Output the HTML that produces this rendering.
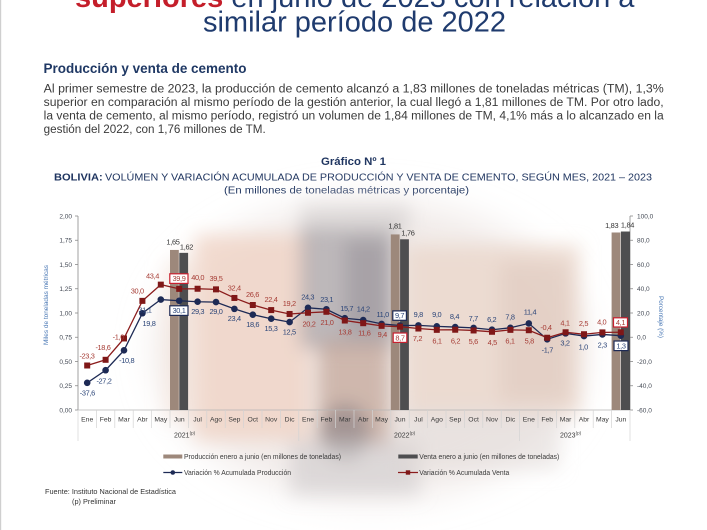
<!DOCTYPE html>
<html><head><meta charset="utf-8">
<style>
html,body{margin:0;padding:0;background:#fff;}
svg{display:block;font-family:"Liberation Sans",Arial,sans-serif;}
.dl{font-size:7.4px;letter-spacing:-0.35px;text-anchor:middle;}
.r{fill:#a63c35;}
.b{fill:#2b4578;}
.ax{font-size:6.5px;fill:#444a55;}
.mo{font-size:6.8px;fill:#3a3a3a;text-anchor:middle;}
</style></head>
<body>
<svg width="707" height="530" viewBox="0 0 707 530" xmlns="http://www.w3.org/2000/svg">
<defs>
<filter id="bl" x="-50%" y="-50%" width="200%" height="200%"><feGaussianBlur stdDeviation="9"/></filter>
<filter id="bl2" x="-50%" y="-50%" width="200%" height="200%"><feGaussianBlur stdDeviation="18"/></filter>
</defs>
<rect x="0" y="0" width="707" height="530" fill="#fff"/>
<rect x="0" y="0" width="1.2" height="530" fill="#cfcfcf"/>

<!-- header -->
<text x="75" y="7" font-size="29"><tspan fill="#c41e2a" font-weight="bold">superiores</tspan><tspan fill="#1f3b6e"> en junio de 2023 con relación a</tspan></text>
<text x="203" y="31.5" font-size="29" fill="#1f3b6e" textLength="303" lengthAdjust="spacingAndGlyphs">similar período de 2022</text>

<text x="43.5" y="73" font-size="13.5" font-weight="bold" fill="#1f3864" textLength="203" lengthAdjust="spacingAndGlyphs">Producción y venta de cemento</text>
<g font-size="11.5" fill="#3b3b3b">
<text x="43.7" y="92.5" textLength="620" lengthAdjust="spacingAndGlyphs">Al primer semestre de 2023, la producción de cemento alcanzó a 1,83 millones de toneladas métricas (TM), 1,3%</text>
<text x="43.7" y="106" textLength="620" lengthAdjust="spacingAndGlyphs">superior en comparación al mismo período de la gestión anterior, la cual llegó a 1,81 millones de TM. Por otro lado,</text>
<text x="43.7" y="119.5" textLength="620" lengthAdjust="spacingAndGlyphs">la venta de cemento, al mismo período, registró un volumen de 1,84 millones de TM, 4,1% más a lo alcanzado en la</text>
<text x="43.7" y="133" textLength="222" lengthAdjust="spacingAndGlyphs">gestión del 2022, con 1,76 millones de TM.</text>
</g>

<!-- chart title -->
<text x="321" y="165" font-size="11" font-weight="bold" fill="#1f3560" textLength="65" lengthAdjust="spacingAndGlyphs">Gráfico Nº 1</text>
<text x="54" y="180.5" font-size="10.5" font-weight="bold" fill="#1f3560" textLength="48.7" lengthAdjust="spacingAndGlyphs">BOLIVIA:</text>
<text x="105" y="180.5" font-size="10.5" fill="#1f3560" textLength="547" lengthAdjust="spacingAndGlyphs">VOLÚMEN Y VARIACIÓN ACUMULADA DE PRODUCCIÓN Y VENTA DE CEMENTO, SEGÚN MES, 2021 – 2023</text>
<text x="224" y="193.5" font-size="10.5" fill="#1f3560" textLength="245" lengthAdjust="spacingAndGlyphs">(En millones de toneladas métricas y porcentaje)</text>

<!-- background photo approximation -->
<g filter="url(#bl2)">
<ellipse cx="370" cy="350" rx="215" ry="150" fill="#ebe3df" opacity="0.7"/>
</g>
<g filter="url(#bl)">
<rect x="195" y="235" width="115" height="205" fill="#efd0c0" opacity="0.7"/>
<rect x="165" y="260" width="40" height="160" fill="#f3e0d6" opacity="0.5"/>
<rect x="300" y="205" width="110" height="28" fill="#d2cfcf" opacity="0.6"/>
<rect x="300" y="228" width="95" height="120" fill="#a6a2a6" opacity="0.7"/>
<rect x="345" y="240" width="45" height="95" fill="#8e8a90" opacity="0.45"/>
<rect x="318" y="340" width="72" height="105" fill="#b89486" opacity="0.6"/>
<ellipse cx="345" cy="432" rx="25" ry="28" fill="#6f6a70" opacity="0.45"/>
<rect x="290" y="440" width="130" height="55" fill="#c8c4c6" opacity="0.5"/>
<rect x="405" y="245" width="175" height="170" fill="#e9d5ca" opacity="0.75"/>
<rect x="500" y="262" width="70" height="140" fill="#dcc3b7" opacity="0.45"/>
<rect x="400" y="410" width="160" height="60" fill="#e2dad8" opacity="0.55"/>
</g>

<!-- axes -->
<g stroke="#8a8a8a" stroke-width="0.8" fill="none">
<line x1="78" y1="216" x2="78" y2="410"/>
<line x1="630" y1="216" x2="630" y2="410"/>
<line x1="75" y1="216" x2="78" y2="216"/><line x1="75" y1="240.25" x2="78" y2="240.25"/><line x1="75" y1="264.5" x2="78" y2="264.5"/><line x1="75" y1="288.75" x2="78" y2="288.75"/><line x1="75" y1="313" x2="78" y2="313"/><line x1="75" y1="337.25" x2="78" y2="337.25"/><line x1="75" y1="361.5" x2="78" y2="361.5"/><line x1="75" y1="385.75" x2="78" y2="385.75"/><line x1="75" y1="410" x2="78" y2="410"/>
<line x1="630" y1="216" x2="633" y2="216"/><line x1="630" y1="240.25" x2="633" y2="240.25"/><line x1="630" y1="264.5" x2="633" y2="264.5"/><line x1="630" y1="288.75" x2="633" y2="288.75"/><line x1="630" y1="313" x2="633" y2="313"/><line x1="630" y1="337.25" x2="633" y2="337.25"/><line x1="630" y1="361.5" x2="633" y2="361.5"/><line x1="630" y1="385.75" x2="633" y2="385.75"/><line x1="630" y1="410" x2="633" y2="410"/>
</g>
<g class="ax" text-anchor="end">
<text x="72" y="218.3">2,00</text><text x="72" y="242.5">1,75</text><text x="72" y="266.8">1,50</text><text x="72" y="291">1,25</text><text x="72" y="315.3">1,00</text><text x="72" y="339.5">0,75</text><text x="72" y="363.8">0,50</text><text x="72" y="388">0,25</text><text x="72" y="412.3">0,00</text>
</g>
<g class="ax">
<text x="637" y="218.3">100,0</text><text x="637" y="242.5">80,0</text><text x="637" y="266.8">60,0</text><text x="637" y="291">40,0</text><text x="637" y="315.3">20,0</text><text x="637" y="339.5">0,0</text><text x="637" y="363.8">-20,0</text><text x="637" y="388">-40,0</text><text x="637" y="412.3">-60,0</text>
</g>
<text transform="translate(48,305) rotate(-90)" font-size="6.5" fill="#4a78b5" text-anchor="middle" textLength="80" lengthAdjust="spacingAndGlyphs">Miles de toneladas métricas</text>
<text transform="translate(659,317) rotate(90)" font-size="6.5" fill="#4a78b5" text-anchor="middle" textLength="42" lengthAdjust="spacingAndGlyphs">Porcentaje (%)</text>

<!-- x axis -->
<line x1="78" y1="410" x2="630" y2="410" stroke="#b5b5b5" stroke-width="0.8"/>
<g stroke="#d3d3d3" stroke-width="0.7">
<line x1="96.4" y1="410" x2="96.4" y2="428"/><line x1="114.8" y1="410" x2="114.8" y2="428"/><line x1="133.2" y1="410" x2="133.2" y2="428"/><line x1="151.6" y1="410" x2="151.6" y2="428"/><line x1="170" y1="410" x2="170" y2="428"/><line x1="188.4" y1="410" x2="188.4" y2="428"/><line x1="206.8" y1="410" x2="206.8" y2="428"/><line x1="225.2" y1="410" x2="225.2" y2="428"/><line x1="243.6" y1="410" x2="243.6" y2="428"/><line x1="262" y1="410" x2="262" y2="428"/><line x1="280.4" y1="410" x2="280.4" y2="428"/>
<line x1="317.2" y1="410" x2="317.2" y2="428"/><line x1="335.6" y1="410" x2="335.6" y2="428"/><line x1="354" y1="410" x2="354" y2="428"/><line x1="372.4" y1="410" x2="372.4" y2="428"/><line x1="390.8" y1="410" x2="390.8" y2="428"/><line x1="409.2" y1="410" x2="409.2" y2="428"/><line x1="427.6" y1="410" x2="427.6" y2="428"/><line x1="446" y1="410" x2="446" y2="428"/><line x1="464.4" y1="410" x2="464.4" y2="428"/><line x1="482.8" y1="410" x2="482.8" y2="428"/><line x1="501.2" y1="410" x2="501.2" y2="428"/>
<line x1="538" y1="410" x2="538" y2="428"/><line x1="556.4" y1="410" x2="556.4" y2="428"/><line x1="574.8" y1="410" x2="574.8" y2="428"/><line x1="593.2" y1="410" x2="593.2" y2="428"/><line x1="611.6" y1="410" x2="611.6" y2="428"/>
<line x1="78" y1="410" x2="78" y2="441"/><line x1="298.8" y1="410" x2="298.8" y2="441"/><line x1="519.6" y1="410" x2="519.6" y2="441"/><line x1="630" y1="410" x2="630" y2="441"/>
</g>
<g class="mo">
<text x="87.2" y="421.5">Ene</text><text x="105.6" y="421.5">Feb</text><text x="124" y="421.5">Mar</text><text x="142.4" y="421.5">Abr</text><text x="160.8" y="421.5">May</text><text x="179.2" y="421.5">Jun</text><text x="197.6" y="421.5">Jul</text><text x="216" y="421.5">Ago</text><text x="234.4" y="421.5">Sep</text><text x="252.8" y="421.5">Oct</text><text x="271.2" y="421.5">Nov</text><text x="289.6" y="421.5">Dic</text>
<text x="308" y="421.5">Ene</text><text x="326.4" y="421.5">Feb</text><text x="344.8" y="421.5">Mar</text><text x="363.2" y="421.5">Abr</text><text x="381.6" y="421.5">May</text><text x="400" y="421.5">Jun</text><text x="418.4" y="421.5">Jul</text><text x="436.8" y="421.5">Ago</text><text x="455.2" y="421.5">Sep</text><text x="473.6" y="421.5">Oct</text><text x="492" y="421.5">Nov</text><text x="510.4" y="421.5">Dic</text>
<text x="528.8" y="421.5">Ene</text><text x="547.2" y="421.5">Feb</text><text x="565.6" y="421.5">Mar</text><text x="584" y="421.5">Abr</text><text x="602.4" y="421.5">May</text><text x="620.8" y="421.5">Jun</text>
</g>
<g font-size="7" fill="#3a3a3a">
<text x="174" y="437.5">2021<tspan font-size="4.5" dy="-3">(p)</tspan></text>
<text x="394" y="437.5">2022<tspan font-size="4.5" dy="-3">(p)</tspan></text>
<text x="560" y="437.5">2023<tspan font-size="4.5" dy="-3">(p)</tspan></text>
</g>

<!-- bars -->
<rect x="170" y="249.95" width="8.8" height="160.05" fill="#9d887b"/>
<rect x="179.3" y="252.86" width="8.8" height="157.14" fill="#4e4e50"/>
<rect x="390.8" y="234.43" width="8.8" height="175.57" fill="#9d887b"/>
<rect x="400.1" y="239.28" width="8.8" height="170.72" fill="#4e4e50"/>
<rect x="611.6" y="232.49" width="8.8" height="177.51" fill="#9d887b"/>
<rect x="620.9" y="231.52" width="9.1" height="178.48" fill="#4e4e50"/>
<g font-size="7.4" fill="#333" text-anchor="middle" letter-spacing="-0.3">
<text x="173" y="244.6">1,65</text><text x="186.5" y="249.6">1,62</text>
<text x="395" y="228.6">1,81</text><text x="408" y="235.6">1,76</text>
<text x="611.7" y="227.9">1,83</text><text x="627.5" y="227.6">1,84</text>
</g>

<!-- lines -->
<polyline fill="none" stroke="#1d2a55" stroke-width="1.3" points="87.2,382.84 105.6,370.23 124,350.35 142.4,313.24 160.8,299.54 179.2,300.75 197.6,301.72 216,302.09 234.4,308.88 252.8,314.70 271.2,318.70 289.6,322.09 308,307.79 326.4,309.24 344.8,318.21 363.2,320.03 381.6,323.91 400,325.49 418.4,325.37 436.8,326.34 455.2,327.06 473.6,327.91 492,329.73 510.4,327.79 528.8,323.43 547.2,339.31 565.6,333.37 584,336.04 602.4,334.46 620.8,335.67"/>
<g fill="#1d2a55">
<circle cx="87.2" cy="382.84" r="3.3"/><circle cx="105.6" cy="370.23" r="3.3"/><circle cx="124" cy="350.35" r="3.3"/><circle cx="142.4" cy="313.24" r="3.3"/><circle cx="160.8" cy="299.54" r="3.3"/><circle cx="179.2" cy="300.75" r="3.3"/><circle cx="197.6" cy="301.72" r="3.3"/><circle cx="216" cy="302.09" r="3.3"/><circle cx="234.4" cy="308.88" r="3.3"/><circle cx="252.8" cy="314.70" r="3.3"/><circle cx="271.2" cy="318.70" r="3.3"/><circle cx="289.6" cy="322.09" r="3.3"/><circle cx="308" cy="307.79" r="3.3"/><circle cx="326.4" cy="309.24" r="3.3"/><circle cx="344.8" cy="318.21" r="3.3"/><circle cx="363.2" cy="320.03" r="3.3"/><circle cx="381.6" cy="323.91" r="3.3"/><circle cx="400" cy="325.49" r="3.3"/><circle cx="418.4" cy="325.37" r="3.3"/><circle cx="436.8" cy="326.34" r="3.3"/><circle cx="455.2" cy="327.06" r="3.3"/><circle cx="473.6" cy="327.91" r="3.3"/><circle cx="492" cy="329.73" r="3.3"/><circle cx="510.4" cy="327.79" r="3.3"/><circle cx="528.8" cy="323.43" r="3.3"/><circle cx="547.2" cy="339.31" r="3.3"/><circle cx="565.6" cy="333.37" r="3.3"/><circle cx="584" cy="336.04" r="3.3"/><circle cx="602.4" cy="334.46" r="3.3"/><circle cx="620.8" cy="335.67" r="3.3"/>
</g>
<polyline fill="none" stroke="#8b1c1c" stroke-width="1.3" points="87.2,365.50 105.6,359.80 124,338.46 142.4,300.87 160.8,284.63 179.2,288.87 197.6,288.75 216,289.36 234.4,297.96 252.8,305.00 271.2,310.09 289.6,313.97 308,312.76 326.4,311.79 344.8,320.52 363.2,323.19 381.6,325.85 400,326.70 418.4,328.52 436.8,329.85 455.2,329.73 473.6,330.46 492,331.79 510.4,329.85 528.8,330.22 547.2,337.74 565.6,332.28 584,334.22 602.4,332.40 620.8,332.28"/>
<g fill="#7f1717">
<rect x="84.2" y="362.5" width="6" height="6"/><rect x="102.6" y="356.8" width="6" height="6"/><rect x="121" y="335.46" width="6" height="6"/><rect x="139.4" y="297.87" width="6" height="6"/><rect x="157.8" y="281.63" width="6" height="6"/><rect x="176.2" y="285.87" width="6" height="6"/><rect x="194.6" y="285.75" width="6" height="6"/><rect x="213" y="286.36" width="6" height="6"/><rect x="231.4" y="294.96" width="6" height="6"/><rect x="249.8" y="302" width="6" height="6"/><rect x="268.2" y="307.09" width="6" height="6"/><rect x="286.6" y="310.97" width="6" height="6"/><rect x="305" y="309.76" width="6" height="6"/><rect x="323.4" y="308.79" width="6" height="6"/><rect x="341.8" y="317.52" width="6" height="6"/><rect x="360.2" y="320.19" width="6" height="6"/><rect x="378.6" y="322.85" width="6" height="6"/><rect x="397" y="323.7" width="6" height="6"/><rect x="415.4" y="325.52" width="6" height="6"/><rect x="433.8" y="326.85" width="6" height="6"/><rect x="452.2" y="326.73" width="6" height="6"/><rect x="470.6" y="327.46" width="6" height="6"/><rect x="489" y="328.79" width="6" height="6"/><rect x="507.4" y="326.85" width="6" height="6"/><rect x="525.8" y="327.22" width="6" height="6"/><rect x="544.2" y="334.74" width="6" height="6"/><rect x="562.6" y="329.28" width="6" height="6"/><rect x="581" y="331.22" width="6" height="6"/><rect x="599.4" y="329.4" width="6" height="6"/><rect x="617.8" y="329.28" width="6" height="6"/>
</g>

<!-- boxes -->
<rect x="169.8" y="273.8" width="18.2" height="9.6" fill="#fff" stroke="#c8202f" stroke-width="1.2"/>
<rect x="169.8" y="305.8" width="18.2" height="9.6" fill="#fff" stroke="#1d2a55" stroke-width="1.2"/>
<rect x="392.8" y="310.9" width="13.6" height="9.4" fill="#fff" stroke="#1d2a55" stroke-width="1.2"/>
<rect x="393.2" y="333" width="13.6" height="9.4" fill="#fff" stroke="#c8202f" stroke-width="1.2"/>
<rect x="613.5" y="317.8" width="14" height="9.2" fill="#fff" stroke="#c8202f" stroke-width="1.2"/>
<rect x="614" y="341" width="14" height="9.6" fill="#fff" stroke="#1d2a55" stroke-width="1.2"/>

<!-- red labels -->
<g class="dl r">
<text x="87" y="358.3">-23,3</text><text x="103" y="349.9">-18,6</text><text x="118.3" y="339.3">-1,0</text><text x="137.3" y="293.3">30,0</text><text x="152.5" y="278.6">43,4</text><text x="179" y="281.1">39,9</text><text x="197.7" y="279.9">40,0</text><text x="216" y="280.9">39,5</text><text x="234.3" y="290.3">32,4</text><text x="252.5" y="296.9">26,6</text><text x="271" y="302.1">22,4</text><text x="289.3" y="306.1">19,2</text>
<text x="309" y="326.6">20,2</text><text x="327" y="325.1">21,0</text><text x="345" y="334.6">13,8</text><text x="364.3" y="335.3">11,6</text><text x="382.3" y="337.1">9,4</text><text x="400" y="340.3">8,7</text><text x="417.5" y="340.9">7,2</text><text x="437" y="343.3">6,1</text><text x="455.5" y="343.3">6,2</text><text x="473.3" y="344.1">5,6</text><text x="492.3" y="344.9">4,5</text><text x="510" y="343.3">6,1</text>
<text x="529.3" y="343.3">5,8</text><text x="546" y="329.9">-0,4</text><text x="565" y="325.3">4,1</text><text x="583.5" y="325.9">2,5</text><text x="601.7" y="324.3">4,0</text><text x="620.5" y="324.9">4,1</text>
</g>
<!-- blue labels -->
<g class="dl b">
<text x="87.3" y="395.3">-37,6</text><text x="104" y="383.3">-27,2</text><text x="126.7" y="362.9">-10,8</text><text x="149" y="325.9">19,8</text><text x="145" y="312.6">31,1</text><text x="179" y="313.1">30,1</text><text x="197.7" y="314.1">29,3</text><text x="216" y="314.1">29,0</text><text x="234.3" y="320.9">23,4</text><text x="252.7" y="326.9">18,6</text><text x="271" y="331.1">15,3</text><text x="289.3" y="334.3">12,5</text>
<text x="307.7" y="299.3">24,3</text><text x="326.7" y="301.9">23,1</text><text x="346.7" y="310.9">15,7</text><text x="363.3" y="311.6">14,2</text><text x="382.7" y="316.9">11,0</text><text x="399.6" y="318.1">9,7</text><text x="418.3" y="316.9">9,8</text><text x="436.7" y="316.9">9,0</text><text x="454.5" y="319.1">8,4</text><text x="473.3" y="320.9">7,7</text><text x="491.7" y="321.9">6,2</text><text x="510" y="319.3">7,8</text>
<text x="530" y="314.3">11,4</text><text x="547.3" y="352.6">-1,7</text><text x="565" y="345.3">3,2</text><text x="583.3" y="349.3">1,0</text><text x="602.3" y="347.6">2,3</text><text x="621" y="348.3">1,3</text>
</g>

<!-- legend -->
<rect x="163.3" y="454.5" width="19" height="4" fill="#9d887b"/>
<text x="184" y="459" font-size="7" fill="#3a3a3a" textLength="157" lengthAdjust="spacingAndGlyphs">Producción enero a junio (en millones de toneladas)</text>
<rect x="398.3" y="454.5" width="19.4" height="4" fill="#4e4e50"/>
<text x="419.3" y="459" font-size="7" fill="#3a3a3a" textLength="140" lengthAdjust="spacingAndGlyphs">Venta enero a junio (en millones de toneladas)</text>
<line x1="163.3" y1="472.5" x2="182.3" y2="472.5" stroke="#1d2a55" stroke-width="1.2"/>
<circle cx="172.8" cy="472.5" r="2.3" fill="#1d2a55"/>
<text x="184" y="475" font-size="7" fill="#3a3a3a" textLength="107" lengthAdjust="spacingAndGlyphs">Variación % Acumulada Producción</text>
<line x1="398" y1="472.5" x2="418" y2="472.5" stroke="#8b1c1c" stroke-width="1.2"/>
<rect x="405.8" y="470.3" width="4.4" height="4.4" fill="#7f1717"/>
<text x="419.3" y="475" font-size="7" fill="#3a3a3a" textLength="90" lengthAdjust="spacingAndGlyphs">Variación % Acumulada Venta</text>

<!-- source -->
<text x="45" y="494" font-size="7.5" fill="#333" textLength="131" lengthAdjust="spacingAndGlyphs">Fuente: Instituto Nacional de Estadística</text>
<text x="72" y="504" font-size="7.5" fill="#333" textLength="44" lengthAdjust="spacingAndGlyphs">(p) Preliminar</text>
</svg>
</body></html>
